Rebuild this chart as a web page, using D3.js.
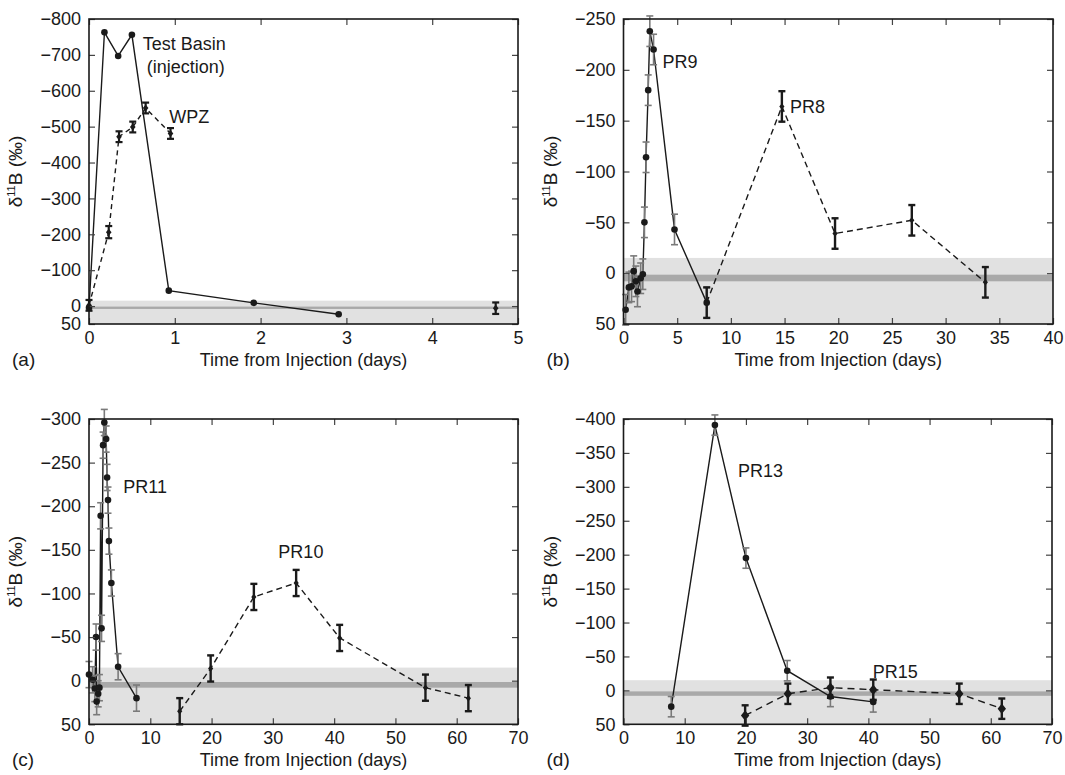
<!DOCTYPE html>
<html><head><meta charset="utf-8">
<script src="https://cdn.jsdelivr.net/npm/d3@7"></script>
<style>
body{margin:0;background:#fff}
svg{display:block}
text{font-family:"Liberation Sans",Arial,Helvetica,sans-serif;fill:#1a1a1a}
</style>
</head><body>
<svg id="chart" width="1065" height="775"></svg>
<script>
// ---------- data (time in days, delta 11B in permil) ----------
// Panel (a)
const aTestT   = [0, 0.18, 0.34, 0.50, 0.93, 1.92, 2.91];
const aTestV   = [5, -763, -697, -756, -43, -9, 23];
const aWpzT    = [0, 0.23, 0.35, 0.51, 0.66, 0.95];
const aWpzV    = [-2, -206, -472, -499, -552, -481];
const aWpzE    = [15, 17, 15, 15, 15, 15];
const aLoneT   = [4.74];
const aLoneV   = [6];
const aLoneE   = [16];
// Panel (b)
const bPR9T = [0.2, 0.5, 0.75, 0.95, 1.15, 1.3, 1.6, 1.8, 1.95, 2.1, 2.3, 2.45, 2.8, 4.75, 7.75];
const bPR9V = [36, 14, 13, -2, 8, 18, 5, 1, -50, -114, -180, -238, -220, -43, 29];
const bPR9E = [15, 15, 15, 15, 15, 15, 15, 15, 15, 15, 15, 15, 15, 15, 15];
const bPR8T = [7.75, 14.75, 19.7, 26.85, 33.7];
const bPR8V = [29, -164, -39, -52, 9];
const bPR8E = [15, 15, 15, 15, 15];
// Panel (c)
const cPR11T = [0.0, 0.6, 0.95, 1.15, 1.25, 1.5, 1.7, 1.9, 2.05, 2.3, 2.5, 2.8, 2.95, 3.1, 3.25, 3.65, 4.75, 7.75];
const cPR11V = [-7, -1, 9, -50, 24, 15, 8, -189, -60, -270, -296, -277, -233, -207, -160, -112, -16, 20];
const cPR11E = [15, 15, 15, 15, 15, 15, 15, 15, 15, 15, 15, 15, 15, 15, 15, 15, 15, 15];
const cPR10T = [14.8, 19.85, 26.9, 33.8, 40.9, 54.9, 61.9];
const cPR10V = [35, -14, -96, -112, -49, 8, 20];
const cPR10E = [15, 15, 15, 15, 15, 15, 15];
// Panel (d)
const dPR13T = [7.8, 14.93, 20.0, 26.75, 33.8, 40.8];
const dPR13V = [24, -391, -195, -29, 9, 17];
const dPR13E = [15, 15, 15, 15, 15, 15];
const dPR15T = [19.87, 26.85, 33.8, 40.8, 54.85, 61.8];
const dPR15V = [37, 5, -4, -1, 5, 27];
const dPR15E = [15, 15, 15, 15, 15, 15];

// axis ticks
const aXTicks = [0, 1, 2, 3, 4, 5];
const aYTicks = [-800, -700, -600, -500, -400, -300, -200, -100, 0, 50];
const bXTicks = [0, 5, 10, 15, 20, 25, 30, 35, 40];
const bYTicks = [-250, -200, -150, -100, -50, 0, 50];
const cXTicks = [0, 10, 20, 30, 40, 50, 60, 70];
const cYTicks = [-300, -250, -200, -150, -100, -50, 0, 50];
const dXTicks = [0, 10, 20, 30, 40, 50, 60, 70];
const dYTicks = [-400, -350, -300, -250, -200, -150, -100, -50, 0, 50];

// background reference bands (permil)
const bandLight = [-15, 50];
const bandDark  = [1.5, 8];

const panelTags = ["(a)", "(b)", "(c)", "(d)"];
const xTitle = "Time from Injection (days)";

// ---------- drawing ----------
const svg = d3.select("#chart");
const fmt = d => d < 0 ? "\u2212" + Math.abs(d) : String(d);

const styles = {
  solidCircle: {dash: null, marker: "circle", size: 3.3, errColor: "#7a7a7a", errW: 1.6},
  dashDiamond: {dash: "6,4", marker: "diamond", size: 2.6, errColor: "#1a1a1a", errW: 2.4},
  dashDiamondBig: {dash: "7,5", marker: "diamond", size: 4.2, errColor: "#1a1a1a", errW: 2.4},
  basin: {dash: null, marker: "circle", size: 3.3, errColor: null, errW: 0},
  wpz: {dash: "5,4", marker: "diamond", size: 2.8, errColor: "#1a1a1a", errW: 2.2}
};

const panels = [
  {box: [89, 518, 19, 324], xDom: [0, 5], yDom: [-800, 50], xt: aXTicks, yt: aYTicks,
   series: [
     {t: aTestT, v: aTestV, e: null, st: styles.basin, line: true},
     {t: aWpzT, v: aWpzV, e: aWpzE, st: styles.wpz, line: true},
     {t: aLoneT, v: aLoneV, e: aLoneE, st: styles.wpz, line: false}
   ],
   notes: [["Test Basin", 0.626, -714], ["(injection)", 0.672, -650], ["WPZ", 0.936, -510]]},
  {box: [623.5, 1053, 19, 324], xDom: [0, 40], yDom: [-250, 50], xt: bXTicks, yt: bYTicks,
   series: [
     {t: bPR9T, v: bPR9V, e: bPR9E, st: styles.solidCircle, line: true},
     {t: bPR8T, v: bPR8V, e: bPR8E, st: styles.dashDiamond, line: true}
   ],
   notes: [["PR9", 3.63, -202], ["PR8", 15.5, -158]]},
  {box: [89, 518, 419, 724.3], xDom: [0, 70], yDom: [-300, 50], xt: cXTicks, yt: cYTicks,
   series: [
     {t: cPR11T, v: cPR11V, e: cPR11E, st: styles.solidCircle, line: true},
     {t: cPR10T, v: cPR10V, e: cPR10E, st: styles.dashDiamond, line: true}
   ],
   notes: [["PR11", 5.6, -215], ["PR10", 30.9, -141]]},
  {box: [623.5, 1052, 419, 724.3], xDom: [0, 70], yDom: [-400, 50], xt: dXTicks, yt: dYTicks,
   series: [
     {t: dPR13T, v: dPR13V, e: dPR13E, st: styles.solidCircle, line: true},
     {t: dPR15T, v: dPR15V, e: dPR15E, st: styles.dashDiamondBig, line: true}
   ],
   notes: [["PR13", 18.7, -315], ["PR15", 40.7, -18]]}
];

panels.forEach((p, i) => {
  const [L, R, T, B] = p.box;
  const x = d3.scaleLinear().domain(p.xDom).range([L, R]);
  const y = d3.scaleLinear().domain(p.yDom).range([T, B]);
  const g = svg.append("g");

  // bands
  g.append("rect").attr("x", L).attr("width", R - L)
    .attr("y", y(bandLight[0])).attr("height", y(bandLight[1]) - y(bandLight[0]))
    .attr("fill", "#e1e1e1");
  g.append("rect").attr("x", L).attr("width", R - L)
    .attr("y", y(bandDark[0])).attr("height", y(bandDark[1]) - y(bandDark[0]))
    .attr("fill", "#a9a9a9");

  // series
  p.series.forEach(s => {
    const pts = s.t.map((t, k) => ({t, v: s.v[k], e: s.e ? s.e[k] : 0}));
    if (s.line) {
      g.append("path").datum(pts)
        .attr("d", d3.line().x(d => x(d.t)).y(d => y(d.v)))
        .attr("fill", "none").attr("stroke", "#1a1a1a").attr("stroke-width", 1.4)
        .attr("stroke-dasharray", s.st.dash);
    }
  });
  p.series.forEach(s => {
    if (!s.e) return;
    const pts = s.t.map((t, k) => ({t, v: s.v[k], e: s.e[k]}));
    const eg = g.append("g").attr("stroke", s.st.errColor).attr("stroke-width", s.st.errW).attr("fill", "none");
    pts.forEach(d => {
      const cx = x(d.t), y1 = y(d.v - d.e), y2 = y(d.v + d.e);
      eg.append("line").attr("x1", cx).attr("x2", cx).attr("y1", y1).attr("y2", y2);
      eg.append("line").attr("x1", cx - 3.5).attr("x2", cx + 3.5).attr("y1", y1).attr("y2", y1);
      eg.append("line").attr("x1", cx - 3.5).attr("x2", cx + 3.5).attr("y1", y2).attr("y2", y2);
    });
  });
  p.series.forEach(s => {
    const pts = s.t.map((t, k) => ({t, v: s.v[k]}));
    if (s.st.marker === "circle") {
      g.append("g").selectAll("circle").data(pts).join("circle")
        .attr("cx", d => x(d.t)).attr("cy", d => y(d.v)).attr("r", s.st.size)
        .attr("fill", "#1a1a1a");
    } else {
      const sz = s.st.size;
      g.append("g").selectAll("path").data(pts).join("path")
        .attr("d", d => { const cx = x(d.t), cy = y(d.v);
          return `M${cx},${cy - sz * 1.25}L${cx + sz},${cy}L${cx},${cy + sz * 1.25}L${cx - sz},${cy}Z`; })
        .attr("fill", "#1a1a1a");
    }
  });

  // axes (inward ticks on all four sides)
  const ax = (gen, tx, ty) => {
    const a = g.append("g").attr("transform", `translate(${tx},${ty})`).call(gen);
    a.select(".domain").remove();
    a.selectAll("line").attr("stroke", "#444").attr("stroke-width", 1.2);
    a.selectAll("text").attr("font-size", 18).attr("fill", "#1a1a1a")
      .attr("font-family", '"Liberation Sans",Arial,sans-serif');
    return a;
  };
  ax(d3.axisBottom(x).tickValues(p.xt).tickSize(-6).tickPadding(7).tickFormat(fmt), 0, B);
  ax(d3.axisTop(x).tickValues(p.xt).tickSize(-6).tickFormat(""), 0, T);
  ax(d3.axisLeft(y).tickValues(p.yt).tickSize(-6).tickPadding(8).tickFormat(fmt), L, 0);
  ax(d3.axisRight(y).tickValues(p.yt).tickSize(-6).tickFormat(""), R, 0);

  g.append("rect").attr("x", L).attr("y", T).attr("width", R - L).attr("height", B - T)
    .attr("fill", "none").attr("stroke", "#1a1a1a").attr("stroke-width", 1.6);

  // annotations
  p.notes.forEach(n => {
    g.append("text").attr("x", x(n[1])).attr("y", y(n[2])).attr("font-size", 18).text(n[0]);
  });

  // x-axis title
  g.append("text").attr("x", (L + R) / 2 + 0).attr("y", B + 42).attr("text-anchor", "middle")
    .attr("font-size", 18).text(xTitle);
  // panel tag
  g.append("text").attr("x", L - 77).attr("y", B + 42).attr("font-size", 19).text(panelTags[i]);
  // y-axis title
  const yt = g.append("text").attr("transform", `translate(${L - 67},${(T + B) / 2}) rotate(-90)`)
    .attr("text-anchor", "middle").attr("font-size", 19);
  yt.append("tspan").text("\u03B4");
  yt.append("tspan").attr("font-size", 11).attr("dy", -7).text("11");
  yt.append("tspan").attr("dy", 7).text("B (\u2030)");
});
</script>
</body></html>
